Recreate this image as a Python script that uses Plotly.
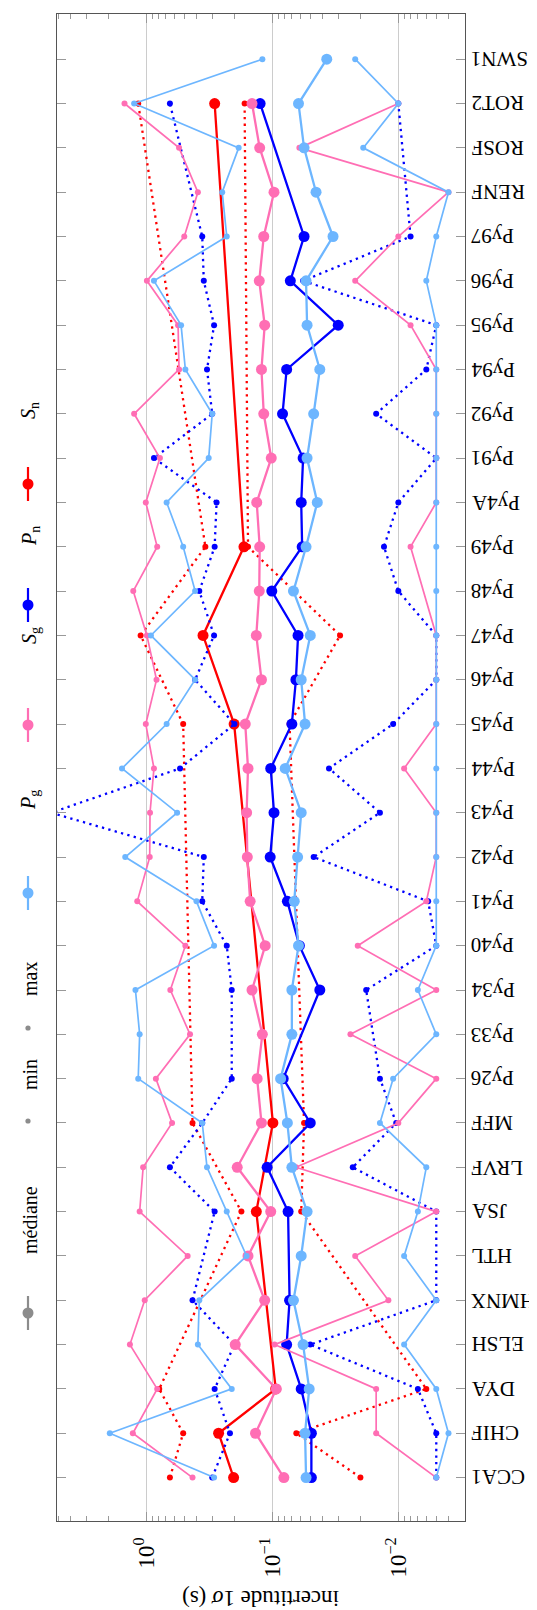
import plotly.graph_objects as go

categories = ["CCA1", "CHIF", "DYA", "ELSH", "HMNX", "HTL", "JSA", "LRVF", "MFF",
              "Py26", "Py33", "Py34", "Py40", "Py41", "Py42", "Py43", "Py44", "Py45",
              "Py46", "Py47", "Py48", "Py49", "Py4A", "Py91", "Py92", "Py94", "Py95",
              "Py96", "Py97", "RENF", "ROSF", "ROT2", "SWN1"]

# P_g
pg_median = [0.054, 0.055, 0.051, 0.057, 0.068, 0.059, 0.053, 0.070, 0.076, 0.086, 0.070,
             0.070, 0.062, 0.067, 0.063, 0.059, 0.079, 0.055, 0.059, 0.050, 0.068, 0.054,
             0.044, 0.053, 0.047, 0.042, 0.053, 0.054, 0.033, 0.045, 0.056, 0.062, 0.037]
pg_max = [0.29, 1.95, 0.21, 0.39, 0.38, 0.16, 0.23, 0.33, 0.36, 1.16, 1.13, 1.22, 0.29,
          0.40, 1.47, 0.57, 1.56, 0.69, 0.41, 0.92, 0.41, 0.51, 0.69, 0.32, 0.30, 0.49,
          0.53, 0.87, 0.23, 0.25, 0.185, 1.25, 0.12]
pg_min = [0.005, 0.004, 0.005, 0.009, 0.005, 0.009, 0.007, 0.006, 0.014, 0.011, 0.005,
          0.007, 0.005, 0.005, 0.005, 0.005, 0.005, 0.005, 0.005, 0.005, 0.005, 0.005,
          0.005, 0.005, 0.005, 0.005, 0.005, 0.006, 0.005, 0.004, 0.019, 0.010, 0.022]

# S_g
sg_median = [0.081, 0.136, 0.093, 0.197, 0.115, 0.156, 0.103, 0.19, 0.122, 0.132, 0.12,
             0.145, 0.114, 0.15, 0.158, 0.16, 0.156, 0.164, 0.122, 0.134, 0.127, 0.126,
             0.133, 0.102, 0.117, 0.122, 0.115, 0.127, 0.117, 0.097, 0.126, 0.145, None]
sg_max = [0.43, 1.28, 0.82, 1.35, 1.03, 0.47, 1.13, 1.06, 0.625, 0.84, 0.45, 0.645, 0.49,
          1.18, 0.94, 0.935, 0.87, 1.01, 0.83, 0.99, 1.27, 0.82, 1.01, 0.78, 1.25, 0.55,
          0.56, 0.99, 0.50, 0.39, 0.55, 1.49, None]
sg_min = [0.005, 0.015, 0.015, 0.096, 0.012, 0.022, 0.005, 0.065, 0.010, 0.005, 0.024,
          0.005, 0.021, 0.006, 0.005, 0.005, 0.009, 0.005, 0.005, 0.005, None, 0.008,
          0.005, 0.005, 0.005, 0.005, 0.008, 0.022, 0.010, 0.004, 0.061, 0.010, None]

# P_n
pn_median = [0.049, 0.049, 0.059, 0.077, 0.073, None, 0.075, 0.11, 0.050, 0.082, None,
             0.042, 0.061, 0.076, 0.104, 0.097, 0.103, 0.070, 0.065, 0.0625, 0.101, 0.058,
             0.059, 0.057, 0.083, 0.077, 0.030, 0.072, 0.056, None, None, 0.125, None]
pn_max = [0.30, 0.217, 0.287, 0.20, 0.43, None, 0.287, 0.65, 0.36, 0.21, None, 0.21, 0.23,
          0.36, 0.35, 5.7, 0.54, 0.20, 0.41, 0.29, 0.38, 0.287, 0.277, 0.87, 0.30, 0.33,
          0.29, 0.35, 0.36, None, None, 0.65, None]
pn_min = [0.005, 0.005, 0.007, 0.05, 0.005, None, 0.005, 0.023, 0.0104, 0.014, None,
          0.018, 0.005, 0.0058, 0.047, 0.014, 0.0355, 0.011, 0.005, 0.005, 0.010, 0.013,
          0.010, 0.005, 0.015, 0.006, 0.005, 0.057, 0.008, None, None, 0.010, None]

# S_n
sn_median = [0.203, 0.267, 0.094, None, None, None, 0.134, None, 0.099, None, None,
             None, None, None, None, None, None, 0.201, None, 0.355, None, 0.168,
             None, None, None, None, None, None, None, None, None, 0.287, None]
sn_max = [0.65, 0.51, 0.79, None, None, None, 0.176, None, 0.43, None, None,
          None, None, None, None, None, None, 0.51, None, 1.11, None, 0.34,
          None, None, None, None, None, None, None, None, None, 1.16, None]
sn_min = [0.020, 0.0645, 0.006, None, None, None, 0.059, None, 0.056, None, None,
          None, None, None, None, None, None, 0.073, None, 0.029, None, 0.156,
          None, None, None, None, None, None, None, None, None, 0.166, None]

x_tick_vals = [1, 0.1, 0.01]
x_tick_text = ["10<sup>0</sup>", "10<sup>−1</sup>", "10<sup>−2</sup>"]
legend_items = ["médiane", "min", "max", "<i>P</i><sub>g</sub>", "<i>S</i><sub>g</sub>",
                "<i>P</i><sub>n</sub>", "<i>S</i><sub>n</sub>"]

C_PG = "#6db6ff"
C_SG = "#ff6eb4"
C_PN = "#0000ff"
C_SN = "#ff0000"
GRAY = "#8c8c8c"
FONT = "Liberation Serif"
DOT = "2.3px,4.3px"

W, H = 537, 1610
L, R, T, B = 49, 80, 6, 97
PW, PH = W - L - R, H - T - B

fig = go.Figure()

groups = [
    (C_SN, sn_max, sn_min, sn_median, True),
    (C_PN, pn_max, pn_min, pn_median, True),
    (C_SG, sg_max, sg_min, sg_median, False),
    (C_PG, pg_max, pg_min, pg_median, False),
]
for col, mx, mn, md, dotted in groups:
    for arr in (mx, mn):
        fig.add_trace(go.Scatter(
            x=arr, y=categories, mode="lines+markers", connectgaps=True,
            line=dict(color=col, width=2.3 if dotted else 1.7, dash=DOT if dotted else "solid"),
            marker=dict(size=6, color=col), showlegend=False, hoverinfo="skip"))
    fig.add_trace(go.Scatter(
        x=md, y=categories, mode="lines+markers", connectgaps=True,
        line=dict(color=col, width=2.3), marker=dict(size=11, color=col),
        showlegend=False, hoverinfo="skip"))

minor_vals = []
for k in (0, -1, -2, -3):
    for m in range(2, 10):
        minor_vals.append(m * 10 ** k)

fig.update_xaxes(
    type="log", range=[0.709, -2.529], tickvals=x_tick_vals, ticktext=x_tick_text,
    tickangle=-90, ticks="inside", ticklen=9, tickcolor="#999999", tickwidth=1,
    showline=True, linecolor="#555555", linewidth=1.3, mirror="ticks",
    showgrid=True, gridcolor="#cccccc", gridwidth=1, zeroline=False,
    tickfont=dict(family=FONT, size=23, color="black"), ticklabelstandoff=6,
    minor=dict(tickvals=minor_vals, ticks="inside", ticklen=5, tickcolor="#999999",
               showgrid=False),
)
fig.update_yaxes(
    type="category", categoryorder="array", categoryarray=categories,
    range=[-0.98, 33.02], ticks="inside", ticklen=9, tickcolor="#999999", tickwidth=1,
    showline=True, linecolor="#555555", linewidth=1.3, mirror="ticks",
    showgrid=False, showticklabels=False, zeroline=False,
)


def py(yp):
    return (T + PH - yp) / PH


def px(xp):
    return (xp - L) / PW


annotations = []
for c in categories:
    annotations.append(dict(
        x=1, xref="paper", y=c, yref="y", text=c, textangle=180, showarrow=False,
        xanchor="left", yanchor="middle", xshift=4,
        font=dict(family=FONT, size=21, color="black")))

annotations.append(dict(
    x=0.5, xref="paper", y=py(1591), yref="paper",
    text="incertitude 1<i>σ</i> (s)", textangle=180, showarrow=False,
    xanchor="center", yanchor="middle", font=dict(family=FONT, size=23, color="black")))

# legend: (text, color, marker y px, text y px, big marker)
legend_layout = [
    (legend_items[0], GRAY, 1305, 1212, True),
    (legend_items[1], GRAY, 1113, 1067, False),
    (legend_items[2], GRAY, 1020, 971, False),
    (legend_items[3], C_PG, 885, 792, True),
    (legend_items[4], C_SG, 717, 628, True),
    (legend_items[5], C_PN, 597, 528, True),
    (legend_items[6], C_SN, 476, 403, True),
]
shapes = []
for txt, col, my, ty, big in legend_layout:
    if big:
        shapes.append(dict(type="line", xref="paper", yref="paper",
                           xsizemode="pixel", ysizemode="pixel",
                           xanchor=px(20), yanchor=py(my), x0=0, x1=0, y0=-17, y1=17,
                           line=dict(color=col, width=2.2)))
        r = 5.5
    else:
        r = 2.6
    shapes.append(dict(type="circle", xref="paper", yref="paper",
                       xsizemode="pixel", ysizemode="pixel",
                       xanchor=px(20), yanchor=py(my), x0=-r, x1=r, y0=-r, y1=r,
                       fillcolor=col, line=dict(color=col, width=0)))
    annotations.append(dict(
        x=px(22), xref="paper", y=py(ty), yref="paper", text=txt, textangle=-90,
        showarrow=False, xanchor="center", yanchor="middle",
        font=dict(family=FONT, size=20, color="black")))

fig.update_layout(
    width=W, height=H, margin=dict(l=L, r=R, t=T, b=B, pad=0),
    plot_bgcolor="white", paper_bgcolor="white",
    annotations=annotations, shapes=shapes, showlegend=False,
    font=dict(family=FONT, color="black"),
)

fig.write_html("out.html")
